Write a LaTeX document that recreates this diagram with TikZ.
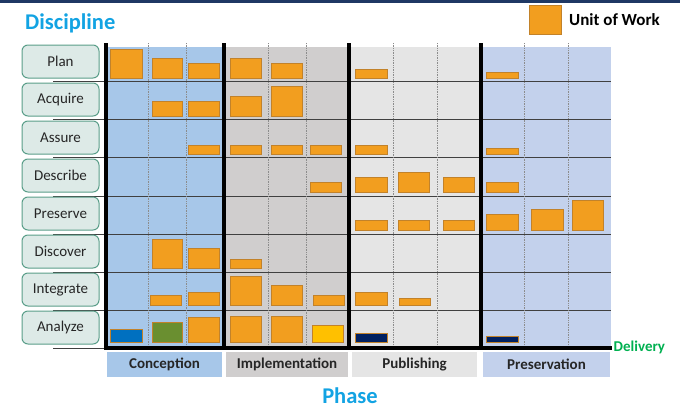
\documentclass[tikz,border=0pt]{standalone}
\usepackage{fontspec}
\setmainfont{Carlito}
\definecolor{navy}{HTML}{1F3864}
\definecolor{titleblue}{HTML}{12A3E3}
\definecolor{concbg}{HTML}{A7C7E9}
\definecolor{implbg}{HTML}{D0CECE}
\definecolor{pubbg}{HTML}{E5E5E5}
\definecolor{presbg}{HTML}{C3D1EC}
\definecolor{uorange}{HTML}{F29E1F}
\definecolor{uborder}{HTML}{C2822A}
\definecolor{ublue}{HTML}{0070C0}
\definecolor{ugreen}{HTML}{6A8F30}
\definecolor{uyellow}{HTML}{FFC000}
\definecolor{unavy}{HTML}{002060}
\definecolor{labfill}{HTML}{DDEAE7}
\definecolor{labdraw}{HTML}{5A9E89}
\definecolor{delgreen}{HTML}{00B050}
\newcommand{\unitblk}[5]{\filldraw[unitbox, fill=#1] (#2,#3) rectangle (#4,#5);}
\begin{document}
\begin{tikzpicture}[x=1pt,y=-1pt,
  unitbox/.style={draw=uborder, line width=0.8pt},
  lab/.style={draw=labdraw, fill=labfill, rounded corners=6pt, line width=1pt,
    minimum width=77pt, minimum height=33pt, inner sep=0pt, font=\fontsize{15}{17}\selectfont, text=black!85},
  phaselab/.style={minimum height=25pt, inner sep=0pt, font=\bfseries\fontsize{15}{17}\selectfont, text=black!85},
  rowline/.style={draw=black!75, line width=0.8pt},
  subcol/.style={draw=black!45, densely dotted, line width=0.7pt},
  thick/.style={draw=black, line width=3.2pt},
  title/.style={font=\bfseries\fontsize{22.5}{26}\selectfont, text=titleblue, inner sep=0pt}]
\useasboundingbox (0,0) rectangle (680,418);
% top bar
\fill[navy] (0,0) rectangle (680,2.5);
% column backgrounds
\fill[concbg] (106,47) rectangle (224,348);
\fill[implbg] (224,47) rectangle (349,348);
\fill[pubbg] (349,47) rectangle (481,348);
\fill[presbg] (481,47) rectangle (611,348);
% row lines
\foreach \y in {81,119,157,196,234,272,310} {\draw[rowline] (53,\y) -- (611,\y);}
\draw[rowline] (53,348) -- (106,348);
% sub-column dotted lines
\foreach \x in {148,186,268,306,393,437,524,568} {\draw[subcol] (\x,43) -- (\x,348);}
% title
\node[title, anchor=west] (discipline) at (25,23) {Discipline};
\node[title] (phase) at (350,396) {Phase};
% legend
\unitblk{uorange}{529}{5}{561}{34}
\coordinate (legsq) at (561,19.5);
\node[anchor=west, inner sep=0pt, font=\bfseries\fontsize{17}{19}\selectfont] (legtxt) at ([xshift=8pt]legsq) {Unit of Work};
% row labels
\node[lab] (plan) at (60.5,61.5) {Plan};
\node[lab] (acquire) at (60.5,99.5) {Acquire};
\node[lab] (assure) at (60.5,137.5) {Assure};
\node[lab] (describe) at (60.5,175.5) {Describe};
\node[lab] (preserve) at (60.5,213.5) {Preserve};
\node[lab] (discover) at (60.5,251.5) {Discover};
\node[lab] (integrate) at (60.5,289.5) {Integrate};
\node[lab] (analyze) at (60.5,327.5) {Analyze};
% Plan
\unitblk{uorange}{110}{49}{142}{78}
\unitblk{uorange}{152}{58}{182}{78}
\unitblk{uorange}{188}{63}{219}{78}
\unitblk{uorange}{230}{58}{261}{78}
\unitblk{uorange}{271}{63}{302}{78}
\unitblk{uorange}{355}{69}{387}{78}
\unitblk{uorange}{486}{72}{518}{78}
% Acquire
\unitblk{uorange}{152}{101}{182}{116}
\unitblk{uorange}{188}{101}{219}{116}
\unitblk{uorange}{230}{96}{261}{116}
\unitblk{uorange}{271}{86}{302}{116}
% Assure
\unitblk{uorange}{188}{145}{219}{154}
\unitblk{uorange}{230}{145}{261}{154}
\unitblk{uorange}{271}{145}{302}{154}
\unitblk{uorange}{310}{145}{341}{154}
\unitblk{uorange}{355}{145}{387}{154}
\unitblk{uorange}{486}{148}{518}{154}
% Describe
\unitblk{uorange}{310}{182}{341}{192}
\unitblk{uorange}{355}{177}{387}{192}
\unitblk{uorange}{398}{172}{429}{192}
\unitblk{uorange}{443}{177}{474}{192}
\unitblk{uorange}{486}{182}{518}{192}
% Preserve
\unitblk{uorange}{355}{220}{387}{230}
\unitblk{uorange}{398}{220}{429}{230}
\unitblk{uorange}{443}{220}{474}{230}
\unitblk{uorange}{486}{214}{518}{230}
\unitblk{uorange}{531}{209}{563}{230}
\unitblk{uorange}{572}{200}{603}{230}
% Discover
\unitblk{uorange}{152}{239}{182}{268}
\unitblk{uorange}{188}{248}{219}{268}
\unitblk{uorange}{230}{259}{261}{268}
% Integrate
\unitblk{uorange}{150}{295}{181}{305}
\unitblk{uorange}{188}{292}{219}{305}
\unitblk{uorange}{230}{276}{261}{305}
\unitblk{uorange}{271}{285}{302}{305}
\unitblk{uorange}{313}{295}{344}{305}
\unitblk{uorange}{355}{292}{387}{305}
\unitblk{uorange}{399}{298}{430}{305}
% Analyze
\unitblk{ublue}{110}{329}{142}{342}
\unitblk{ugreen}{152}{322}{182}{342}
\unitblk{uorange}{188}{317}{219}{342}
\unitblk{uorange}{230}{316}{261}{342}
\unitblk{uorange}{271}{316}{302}{342}
\unitblk{uyellow}{312}{325}{343}{342}
\unitblk{unavy}{355}{333}{387}{342}
\unitblk{unavy}{486}{336}{518}{342}
% thick phase lines
\foreach \x in {106,224,349,481} {\draw[thick] (\x,43) -- (\x,349.6);}
\coordinate (delstart) at (104.4,348);
\coordinate (delend) at (612,348);
\draw[thick] (delstart) -- (delend);
\node[anchor=west, inner sep=0pt, font=\bfseries\fontsize{15}{17}\selectfont, text=delgreen] (delivery) at ([xshift=1.5pt,yshift=1pt]delend) {Delivery};
% phase labels
\node[phaselab, fill=concbg, minimum width=115pt] (conception) at (164.5,364.5) {Conception};
\node[phaselab, fill=implbg, minimum width=122pt] (implementation) at (287,364.5) {Implementation};
\node[phaselab, fill=pubbg, minimum width=125pt] (publishing) at (414.5,364.5) {Publishing};
\node[phaselab, fill=presbg, minimum width=127pt] (preservation) at (546.5,364.5) {Preservation};
\end{tikzpicture}
\end{document}
